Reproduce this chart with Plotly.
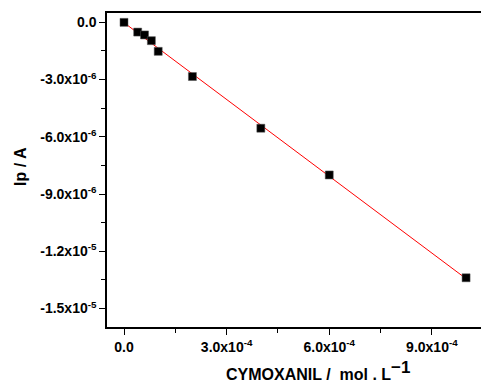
import numpy as np
import plotly.graph_objects as go

conc = [0.0, 0.4e-4, 0.6e-4, 0.8e-4, 1.0e-4, 2.0e-4, 4.0e-4, 6.0e-4, 10.0e-4]
ip = [0.0, -0.51e-6, -0.66e-6, -0.96e-6, -1.52e-6, -2.84e-6, -5.55e-6, -8.0e-6, -13.39e-6]

x_tickvals = [0.0, 3.0e-4, 6.0e-4, 9.0e-4]
x_ticktext = ["0.0", "3.0x10<sup>-4</sup>", "6.0x10<sup>-4</sup>", "9.0x10<sup>-4</sup>"]
y_tickvals = [0.0, -3.0e-6, -6.0e-6, -9.0e-6, -1.2e-5, -1.5e-5]
y_ticktext = ["0.0", "-3.0x10<sup>-6</sup>", "-6.0x10<sup>-6</sup>", "-9.0x10<sup>-6</sup>",
              "-1.2x10<sup>-5</sup>", "-1.5x10<sup>-5</sup>"]

slope, intercept = np.polyfit(conc, ip, 1)
fit_x = [min(conc), max(conc)]
fit_y = [slope * v + intercept for v in fit_x]

fig = go.Figure()
fig.add_trace(go.Scatter(x=fit_x, y=fit_y, mode="lines",
                         line=dict(color="#ff0000", width=1), showlegend=False))
fig.add_trace(go.Scatter(x=conc, y=ip, mode="markers",
                         marker=dict(symbol="square", size=8, color="black",
                                     line=dict(width=0.5, color="#555")),
                         showlegend=False))

font = "Liberation Sans, Arial, sans-serif"
bold = lambda labels: ["<b>" + t + "</b>" for t in labels]
# page body has an 8px default margin: figure is offset by 8px in the window
fig.update_layout(
    width=481, height=377,
    margin=dict(l=99, r=0, t=5, b=58),
    plot_bgcolor="white", paper_bgcolor="white",
    font=dict(family=font, color="black", size=14),
    xaxis=dict(range=[-0.497e-4, 10.67e-4], tickvals=x_tickvals, ticktext=bold(x_ticktext),
               ticks="outside", ticklen=6, tickwidth=1, tickcolor="black",
               showline=True, linecolor="black", linewidth=1.5, mirror=True,
               showgrid=False, zeroline=False, automargin=False,
               tickfont=dict(size=14, family=font, color="black"),
               minor=dict(tickvals=[1.5e-4, 4.5e-4, 7.5e-4, 10.5e-4], ticks="outside",
                          ticklen=4, tickcolor="black", showgrid=False)),
    yaxis=dict(range=[-1.597e-5, 0.49e-6], tickvals=y_tickvals, ticktext=bold(y_ticktext),
               ticks="outside", ticklen=6, tickwidth=1, tickcolor="black",
               showline=True, linecolor="black", linewidth=1.5, mirror=False,
               showgrid=False, zeroline=False, automargin=False,
               tickfont=dict(size=14, family=font, color="black"),
               minor=dict(tickvals=[-1.5e-6, -4.5e-6, -7.5e-6, -10.5e-6, -13.5e-6],
                          ticks="outside", ticklen=4, tickcolor="black", showgrid=False)),
    annotations=[
        dict(text="<b>CYMOXANIL /  mol . L<sup><span style='font-size:17px'>\u22121</span></sup></b>",
             xref="paper", yref="paper", x=0.552, y=-0.138,
             xanchor="center", yanchor="middle", showarrow=False,
             font=dict(size=16, family=font, color="black")),
        dict(text="<b>Ip / A</b>", xref="paper", yref="paper",
             x=-0.225, y=0.510, textangle=-90,
             xanchor="center", yanchor="middle", showarrow=False,
             font=dict(size=16, family=font, color="black")),
    ],
)

fig.write_html("out.html")
